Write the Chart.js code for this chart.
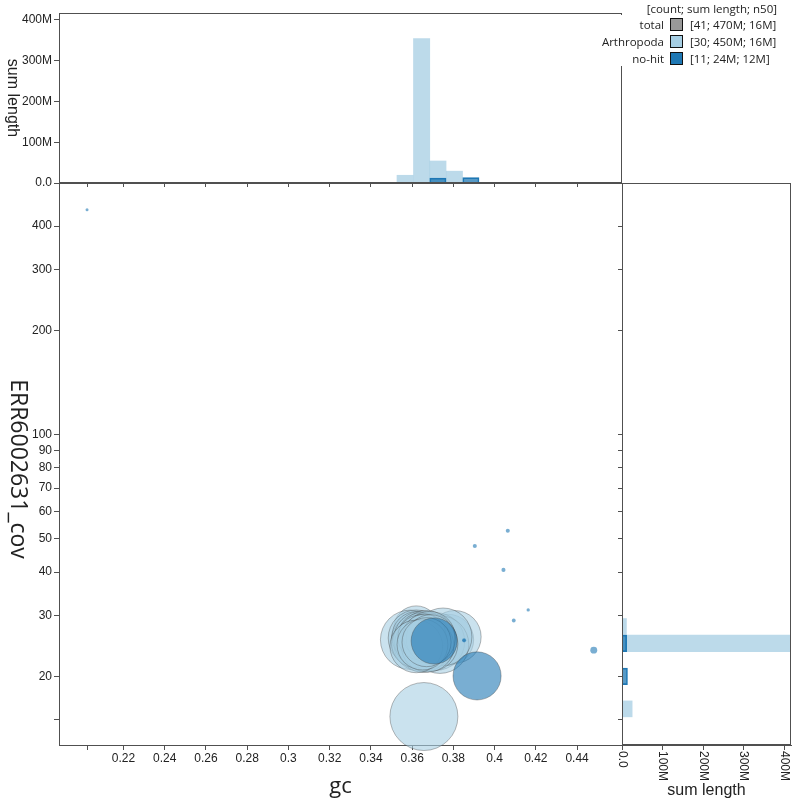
<!DOCTYPE html>
<html>
<head>
<meta charset="utf-8">
<title>blob plot</title>
<script src="https://cdn.jsdelivr.net/npm/chart.js@4.4.1/dist/chart.umd.min.js"></script>
<style>
  body { margin: 0; background: #fff; }
  #page { position: relative; width: 800px; height: 806px; overflow: hidden; }
  #page canvas { position: absolute; left: 0; top: 0; }
  #legendBox { position: absolute; left: 621px; top: 15px; width: 179px; height: 51px; background: #fff; }
  .leg { position: absolute; font-family: "Open Sans", sans-serif; font-size: 11.5px; color: #222; line-height: 18px; white-space: nowrap; }
  .swatch { position: absolute; width: 11px; height: 11px; border: 1.5px solid #111; }
</style>
</head>
<body>
<div id="page">
  <canvas id="topHist" width="800" height="806"></canvas>
  <canvas id="sideHist" width="800" height="806"></canvas>
  <canvas id="blobs" width="800" height="806"></canvas>
  <div id="legendBox"></div>
</div>
<script>
// tick values and labels
const gcTicks = [0.2023, 0.22, 0.24, 0.26, 0.28, 0.3, 0.32, 0.34, 0.36, 0.38, 0.4, 0.42, 0.44];
const gcTickLabels = ['', '0.22', '0.24', '0.26', '0.28', '0.3', '0.32', '0.34', '0.36', '0.38', '0.4', '0.42', '0.44'];
const covTicks = [15, 20, 30, 40, 50, 60, 70, 80, 90, 100, 200, 300, 400];
const covTickLabels = ['', '20', '30', '40', '50', '60', '70', '80', '90', '100', '200', '300', '400'];
const lenTicks = [0, 100, 200, 300, 400];
const lenTickLabels = ['0.0', '100M', '200M', '300M', '400M'];

// Arthropoda contigs (gc, coverage, length in Mb)
const arthGc = [0.3657, 0.3620, 0.3590, 0.3775, 0.3807, 0.3715, 0.3735, 0.3750, 0.3620, 0.3630,
  0.3640, 0.3625, 0.3650, 0.3660, 0.3635, 0.3670, 0.3645, 0.3680, 0.3655, 0.3690,
  0.3615, 0.3665, 0.3685, 0.3675, 0.3640, 0.3660, 0.3690, 0.3620, 0.3650, 0.3670];
const arthCov = [15.3, 27.5, 25.5, 25.5, 26.0, 25.2, 24.7, 26.0, 25.8, 25.2,
  24.6, 26.0, 25.5, 24.9, 25.0, 26.0, 26.1, 25.3, 24.3, 24.8,
  24.8, 25.7, 26.0, 24.5, 25.9, 26.2, 25.6, 24.4, 24.7, 25.1];
const arthLen = [25, 11, 19, 14, 15, 18, 18, 18, 17, 16,
  15, 14, 18, 16, 13, 15, 12, 17, 14, 16,
  12, 13, 14, 15, 11, 10, 13, 15, 14, 13];

// no-hit contigs
const nohitGc = [0.3707, 0.3915, 0.2023, 0.3904, 0.4064, 0.4043, 0.4163, 0.4093, 0.3852, 0.4481, 0.3852];
const nohitCov = [25.3, 20.05, 446, 47.6, 52.7, 40.6, 31.1, 29.0, 25.4, 23.8, 25.4];
const nohitLen = [11.5, 12.5, 0.04, 0.09, 0.09, 0.09, 0.06, 0.08, 0.09, 0.26, 0.05];

// histograms (sum length, Mb)
const gcBins = [0.3566, 0.3646, 0.3725, 0.3805, 0.3885];
const gcHistArth = [19, 354, 54, 29, 0];
const gcHistNohit = [0, 0, 12, 0, 13];
const covBins = [16.1, 17.9, 20.0, 22.3, 24.9, 27.8];
const covHistArth = [25, 0, 0, 0, 416, 11];
const covHistNohit = [0, 0, 13.5, 0, 11.5, 0];

// legend
const legendNames = ['total', 'Arthropoda', 'no-hit'];
const legendStats = ['[41; 470M; 16M]', '[30; 450M; 16M]', '[11; 24M; 12M]'];
const legendColours = ['#999999', '#a6cee3', '#1f78b4'];

const GC_MIN = 0.1887, GC_MAX = 0.4618;
const COV_MIN = 12.66, COV_MAX = 533;
const LEN_MAX = 417;
const AXIS = '#505050';
const TEXT = '#222';

Chart.defaults.font.family = '"Liberation Sans", Arial, sans-serif';
Chart.defaults.font.size = 12;
Chart.defaults.color = TEXT;

function points(gc, cov, len) {
  return gc.map((g, i) => ({ x: g, y: cov[i], len: len[i] }));
}

function radius(c) {
  return Math.max(1.5, 6.8 * Math.sqrt(c.raw.len));
}

function setTicks(values) {
  return s => { s.ticks = values.map(v => ({ value: v })); };
}

// draws a box round the plot area
const frame = {
  id: 'frame',
  afterDraw(chart) {
    const { ctx, chartArea: a } = chart;
    ctx.save();
    ctx.strokeStyle = AXIS;
    ctx.lineWidth = 1;
    ctx.strokeRect(Math.round(a.left) + 0.5, Math.round(a.top) + 0.5,
      Math.round(a.right - a.left) - 1, Math.round(a.bottom - a.top) - 1);
    ctx.restore();
  }
};

// vertical title reading top to bottom
function vTitle(text, font, x, shift) {
  return {
    id: 'vtitle',
    afterDraw(chart) {
      const { ctx, chartArea } = chart;
      ctx.save();
      ctx.translate(x, (chartArea.top + chartArea.bottom) / 2 + shift);
      ctx.rotate(Math.PI / 2);
      ctx.font = font;
      ctx.fillStyle = TEXT;
      ctx.textAlign = 'center';
      ctx.textBaseline = 'middle';
      ctx.fillText(text, 0, 0);
      ctx.restore();
    }
  };
}

// x tick labels of the side histogram, turned clockwise
const rotTicks = {
  id: 'rotTicks',
  afterDraw(chart) {
    const scale = chart.scales.x;
    const ctx = chart.ctx;
    ctx.save();
    ctx.font = '12px "Liberation Sans"';
    ctx.fillStyle = TEXT;
    ctx.textAlign = 'left';
    ctx.textBaseline = 'middle';
    scale.ticks.forEach(t => {
      ctx.save();
      ctx.translate(scale.getPixelForValue(t.value), scale.top + 6);
      ctx.rotate(Math.PI / 2);
      ctx.fillText(t.label, 0, 0);
      ctx.restore();
    });
    ctx.restore();
  }
};

const gridOpts = { drawOnChartArea: false, offset: false, color: AXIS, tickColor: AXIS };

// main blob plot
new Chart(document.getElementById('blobs'), {
  type: 'scatter',
  data: {
    datasets: [{
      label: 'no-hit',
      data: points(nohitGc, nohitCov, nohitLen),
      backgroundColor: 'rgba(31, 120, 180, 0.6)',
      borderColor: 'rgba(60, 60, 60, 0.45)',
      borderWidth: c => (c.raw.len < 1 ? 0 : 0.8),
      pointRadius: radius,
      clip: false,
      order: 0
    }, {
      label: 'Arthropoda',
      data: points(arthGc, arthCov, arthLen),
      backgroundColor: 'rgba(166, 206, 227, 0.6)',
      borderColor: 'rgba(60, 60, 60, 0.45)',
      borderWidth: 0.8,
      pointRadius: radius,
      clip: false,
      order: 1
    }]
  },
  options: {
    responsive: false,
    animation: false,
    events: [],
    layout: { padding: { top: 183, right: 178, left: 0, bottom: 0 } },
    plugins: { legend: { display: false }, tooltip: { enabled: false } },
    scales: {
      x: {
        type: 'linear', min: GC_MIN, max: GC_MAX, bounds: 'data',
        afterFit: s => { s.height = 61; },
        afterBuildTicks: setTicks(gcTicks),
        ticks: { autoSkip: false, maxRotation: 0, padding: 1, callback: (v, i) => gcTickLabels[i] },
        grid: Object.assign({ tickLength: 5 }, gridOpts),
        border: { color: AXIS },
        title: { display: true, text: 'gc', color: TEXT, font: { family: '"Open Sans"', size: 22 }, padding: { top: 0, bottom: 6 } }
      },
      y: {
        type: 'logarithmic', min: COV_MIN, max: COV_MAX, bounds: 'data',
        afterFit: s => { s.width = 59; },
        afterBuildTicks: setTicks(covTicks),
        ticks: { autoSkip: false, padding: 2, callback: (v, i) => covTickLabels[i] },
        grid: Object.assign({ tickLength: 5 }, gridOpts),
        border: { color: AXIS }
      }
    }
  },
  plugins: [vTitle('ERR6002631_cov', '23px "Open Sans"', 18, 5)]
});

// gc histogram on top
new Chart(document.getElementById('topHist'), {
  type: 'bar',
  data: {
    datasets: [{
      data: gcBins.map((b, i) => ({ x: b, y: gcHistNohit[i] })),
      backgroundColor: 'rgba(31, 120, 180, 0.75)',
      borderColor: '#1f78b4',
      borderWidth: 1,
      order: 0
    }, {
      data: gcBins.map((b, i) => ({ x: b, y: gcHistArth[i] })),
      backgroundColor: 'rgba(166, 206, 227, 0.75)',
      borderWidth: 0,
      order: 1
    }]
  },
  options: {
    responsive: false,
    animation: false,
    events: [],
    layout: { padding: { top: 13, right: 178, left: 0, bottom: 619 } },
    datasets: { bar: { grouped: false, barPercentage: 1, categoryPercentage: 1 } },
    plugins: { legend: { display: false }, tooltip: { enabled: false } },
    scales: {
      x: {
        type: 'linear', min: GC_MIN, max: GC_MAX, bounds: 'data', offset: false,
        afterFit: s => { s.height = 4; },
        afterBuildTicks: setTicks(gcTicks),
        ticks: { display: false, autoSkip: false },
        grid: Object.assign({ tickLength: 4 }, gridOpts),
        border: { color: AXIS }
      },
      y: {
        type: 'linear', min: 0, max: LEN_MAX, bounds: 'data',
        afterFit: s => { s.width = 59; },
        afterBuildTicks: setTicks(lenTicks),
        ticks: { autoSkip: false, padding: 2, callback: (v, i) => lenTickLabels[i] },
        grid: Object.assign({ tickLength: 5 }, gridOpts),
        border: { color: AXIS }
      }
    }
  },
  plugins: [frame, vTitle('sum length', '16px "Liberation Sans"', 12, 0)]
});

// coverage histogram on the right (both series share one stack slot, values not summed)
new Chart(document.getElementById('sideHist'), {
  type: 'bar',
  data: {
    datasets: [{
      data: covBins.map((b, i) => ({ y: b, x: covHistNohit[i] })),
      backgroundColor: 'rgba(31, 120, 180, 0.75)',
      borderColor: '#1f78b4',
      borderWidth: 1,
      stack: 'cov',
      order: 0
    }, {
      data: covBins.map((b, i) => ({ y: b, x: covHistArth[i] })),
      backgroundColor: 'rgba(166, 206, 227, 0.75)',
      borderWidth: 0,
      stack: 'cov',
      order: 1
    }]
  },
  options: {
    indexAxis: 'y',
    responsive: false,
    animation: false,
    events: [],
    layout: { padding: { top: 183, right: 9, left: 618, bottom: 0 } },
    datasets: { bar: { barThickness: 'flex', barPercentage: 1, categoryPercentage: 1 } },
    plugins: { legend: { display: false }, tooltip: { enabled: false } },
    scales: {
      y: {
        type: 'logarithmic', min: COV_MIN, max: COV_MAX, bounds: 'data', offset: false,
        afterFit: s => { s.width = 4; },
        afterBuildTicks: setTicks(covTicks),
        ticks: { display: false, autoSkip: false },
        grid: Object.assign({ tickLength: 4 }, gridOpts),
        border: { color: AXIS }
      },
      x: {
        type: 'linear', min: 0, max: LEN_MAX, bounds: 'data', stacked: false,
        afterFit: s => { s.height = 61; },
        afterBuildTicks: setTicks(lenTicks),
        ticks: { display: false, autoSkip: false, callback: (v, i) => lenTickLabels[i] },
        grid: Object.assign({ tickLength: 5 }, gridOpts),
        border: { color: AXIS },
        title: { display: true, text: 'sum length', color: TEXT, font: { size: 16 }, padding: { top: 0, bottom: 6 } }
      }
    }
  },
  plugins: [frame, rotTicks]
});

// legend (html)
const page = document.getElementById('page');
function addDiv(cls, css, text) {
  const d = document.createElement('div');
  d.className = cls;
  Object.assign(d.style, css);
  if (text) d.textContent = text;
  page.appendChild(d);
  return d;
}
addDiv('leg', { right: '23px', top: '0px' }, '[count; sum length; n50]');
legendNames.forEach((name, i) => {
  const cy = 25 + 17 * i;
  addDiv('leg', { right: '136px', top: (cy - 9) + 'px' }, name);
  addDiv('swatch', { left: '670px', top: (cy - 7) + 'px', background: legendColours[i] });
  addDiv('leg', { left: '690px', top: (cy - 9) + 'px' }, legendStats[i]);
});
</script>
</body>
</html>
